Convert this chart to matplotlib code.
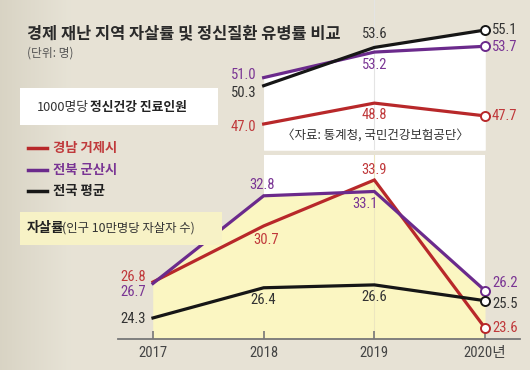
import matplotlib
matplotlib.use("Agg")
import matplotlib.pyplot as plt
from matplotlib.patches import Rectangle
from matplotlib.lines import Line2D
from matplotlib import font_manager
import numpy as np

# ---------------- data ----------------
years_bottom = [2017, 2018, 2019, 2020]
year_labels = ["2017", "2018", "2019", "2020년"]
suicide_geoje = [26.8, 30.7, 33.9, 23.6]
suicide_gunsan = [26.7, 32.8, 33.1, 26.2]
suicide_nation = [24.3, 26.4, 26.6, 25.5]

years_top = [2018, 2019, 2020]
mental_geoje = [47.0, 48.8, 47.7]
mental_gunsan = [51.0, 53.2, 53.7]
mental_nation = [50.3, 53.6, 55.1]

series_names = ["경남 거제시", "전북 군산시", "전국 평균"]
title = "경제 재난 지역 자살률 및 정신질환 유병률 비교"
unit = "(단위: 명)"
source = "〈자료: 통계청, 국민건강보험공단〉"

# ---------------- style ----------------
W, H = 530, 370
BG = "#e7e3d6"
RED, PURPLE, BLACK = "#b8282a", "#6b2a8c", "#161616"
RED_T, PURPLE_T, DARK_T = "#c0393b", "#7a3594", "#333333"
YELLOW = "#fbf6c2"
KR = ["Noto Sans CJK KR", "DejaVu Sans"]

# pick a condensed face for numbers if one is installed
_fonts = font_manager.fontManager.ttflist
_names = {f.name for f in _fonts}
NUM_STRETCH = "normal"
if "Liberation Sans Narrow" in _names:
    NUM_FAM = "Liberation Sans Narrow"
elif "Roboto Condensed" in _names:
    NUM_FAM = "Roboto Condensed"
elif any(f.name == "DejaVu Sans" and f.stretch == "condensed" for f in _fonts):
    NUM_FAM = "DejaVu Sans"
    NUM_STRETCH = "condensed"
elif "Roboto" in _names:
    NUM_FAM = "Roboto"
else:
    NUM_FAM = "DejaVu Sans"
NUM = [NUM_FAM, "Noto Sans CJK KR", "DejaVu Sans"]

plt.rcParams["font.family"] = KR

fig = plt.figure(figsize=(W / 100, H / 100), dpi=100, facecolor=BG)

# subtle left-side shading
bg_ax = fig.add_axes([0, 0, 1, 1], zorder=-5)
bg_ax.set_axis_off()
grad = np.linspace(0, 1, 256)
shade = np.clip(grad * 530 / 70, 0, 1)
img = np.zeros((1, 256, 3))
c0 = np.array([0.85, 0.83, 0.77])
c1 = np.array([0.906, 0.890, 0.839])
img[0] = c0 + (c1 - c0) * shade[:, None]
bg_ax.imshow(img, aspect="auto", extent=[0, 1, 0, 1])
bg_ax.set_xlim(0, 1)
bg_ax.set_ylim(0, 1)


def px(x, y):
    return x / W, 1 - y / H


def box(x0, y0, x1, y1, color):
    fig.patches.append(Rectangle(px(x0, y1), (x1 - x0) / W, (y1 - y0) / H,
                                 transform=fig.transFigure, facecolor=color,
                                 edgecolor="none", zorder=0))


XL = (2016.684, 2020.316)

# ---------------- top panel ----------------
axt = fig.add_axes([118 / W, 1 - 150 / H, 402 / W, 150 / H])
axt.set_xlim(*XL)
ylo_t = 47 - 26 / 11.6
axt.set_ylim(ylo_t, 47 + 124 / 11.6)
axt.set_axis_off()
axt.patch.set_alpha(0)
axt.fill_between(years_top, mental_gunsan, ylo_t, color="white", lw=0, zorder=1)
axt.fill_between(years_top, mental_nation, ylo_t, color="white", lw=0, zorder=1)
axt.axvline(2019, color="#e4e4e4", lw=0.8, zorder=1.5)

# ---------------- bottom panel ----------------
axb = fig.add_axes([118 / W, 1 - 339 / H, 402 / W, 184 / H])
axb.set_xlim(*XL)
ylo_b = 23.6 - 11 / 14.37
axb.set_ylim(ylo_b, 23.6 + 173 / 14.37)
axb.patch.set_alpha(0)
axb.axvspan(2018, 2020, color="white", lw=0, zorder=0.5)
axb.fill_between(years_bottom, suicide_gunsan, ylo_b, color=YELLOW, lw=0, zorder=1)
axb.fill_between(years_bottom, suicide_geoje, ylo_b, color=YELLOW, lw=0, zorder=1)
axb.axvline(2019, color="#ece6c0", lw=0.8, zorder=1.5)
for s in ["top", "right", "left"]:
    axb.spines[s].set_visible(False)
axb.spines["bottom"].set_color("#777777")
axb.spines["bottom"].set_linewidth(1.3)
axb.set_yticks([])
axb.set_xticks(years_bottom)
axb.set_xticklabels(year_labels, fontfamily=NUM, fontstretch=NUM_STRETCH,
                    fontsize=10.5, color="#444444")
axb.tick_params(axis="x", direction="in", length=6, width=1.2, color="#777777", pad=5)

# ---------------- lines ----------------
def draw(ax, xs, ys, color):
    ax.plot(xs, ys, color=color, lw=2.3, solid_joinstyle="miter", zorder=3)
    ax.plot(xs[-1], ys[-1], "o", ms=6.5, mfc="white", mec=color, mew=1.4, zorder=4)


draw(axt, years_top, mental_geoje, RED)
draw(axt, years_top, mental_gunsan, PURPLE)
draw(axt, years_top, mental_nation, BLACK)
draw(axb, years_bottom, suicide_geoje, RED)
draw(axb, years_bottom, suicide_gunsan, PURPLE)
draw(axb, years_bottom, suicide_nation, BLACK)


def lab(ax, x, v, color, dx, dy, ha="center"):
    ax.annotate(f"{v:.1f}", (x, v), xytext=(dx, dy), textcoords="offset pixels",
                ha=ha, va="center", fontsize=10.5, color=color, fontfamily=NUM,
                fontstretch=NUM_STRETCH, zorder=5)


# top labels
lab(axt, years_top[0], mental_gunsan[0], PURPLE_T, -7, 3, "right")
lab(axt, years_top[0], mental_nation[0], DARK_T, -7, -7, "right")
lab(axt, years_top[0], mental_geoje[0], RED_T, -7, -3, "right")
lab(axt, years_top[1], mental_nation[1], DARK_T, 0, 13)
lab(axt, years_top[1], mental_gunsan[1], PURPLE_T, 0, -13)
lab(axt, years_top[1], mental_geoje[1], RED_T, 0, -12)
lab(axt, years_top[2], mental_nation[2], DARK_T, 7, 0, "left")
lab(axt, years_top[2], mental_gunsan[2], PURPLE_T, 7, -1, "left")
lab(axt, years_top[2], mental_geoje[2], RED_T, 7, 0, "left")

# bottom labels
lab(axb, 2017, suicide_geoje[0], RED_T, -7, 5, "right")
lab(axb, 2017, suicide_gunsan[0], PURPLE_T, -7, -9, "right")
lab(axb, 2017, suicide_nation[0], DARK_T, -7, -1, "right")
lab(axb, 2018, suicide_gunsan[1], PURPLE_T, -2, 11)
lab(axb, 2018, suicide_geoje[1], RED_T, 2, -14)
lab(axb, 2018, suicide_nation[1], DARK_T, 0, -12)
lab(axb, 2019, suicide_geoje[2], RED_T, 0, 10)
lab(axb, 2019, suicide_gunsan[2], PURPLE_T, -9, -13)
lab(axb, 2019, suicide_nation[2], DARK_T, 0, -12)
lab(axb, 2020, suicide_gunsan[3], PURPLE_T, 7, 8, "left")
lab(axb, 2020, suicide_nation[3], DARK_T, 7, -3, "left")
lab(axb, 2020, suicide_geoje[3], RED_T, 7, 0, "left")

# ---------------- texts & boxes ----------------
fig.text(*px(27, 33), title, fontsize=11.8, fontweight="bold", color="#2a2a2a", va="center", ha="left")
fig.text(*px(27, 53), unit, fontsize=8.5, color="#555555", va="center", ha="left")

box(20, 88, 218, 125, "white")
fig.text(*px(37, 107), "1000명당", fontsize=9.2, color="#333333", va="center", ha="left")
fig.text(*px(90, 107), "정신건강 진료인원", fontsize=9.2, fontweight="bold", color="#222222", va="center", ha="left")

fig.text(*px(375, 135), source, fontsize=9, color="#333333", va="center", ha="center")

for name, col, tcol, y in zip(series_names, [RED, PURPLE, BLACK], [RED_T, PURPLE_T, "#222222"], [148, 170, 191]):
    fig.add_artist(Line2D([28 / W, 47 / W], [1 - y / H] * 2, color=col, lw=2.5, transform=fig.transFigure))
    fig.text(*px(53, y), name, fontsize=9.6, fontweight="bold", color=tcol, va="center", ha="left")

box(20, 212, 222, 245, "#f7f2c6")
fig.text(*px(27, 228), "자살률", fontsize=9.8, fontweight="bold", color="#222222", va="center", ha="left")
fig.text(*px(62, 228), "(인구 10만명당 자살자 수)", fontsize=8.9, color="#333333", va="center", ha="left")

fig.savefig("out.png", dpi=100, facecolor=BG)
